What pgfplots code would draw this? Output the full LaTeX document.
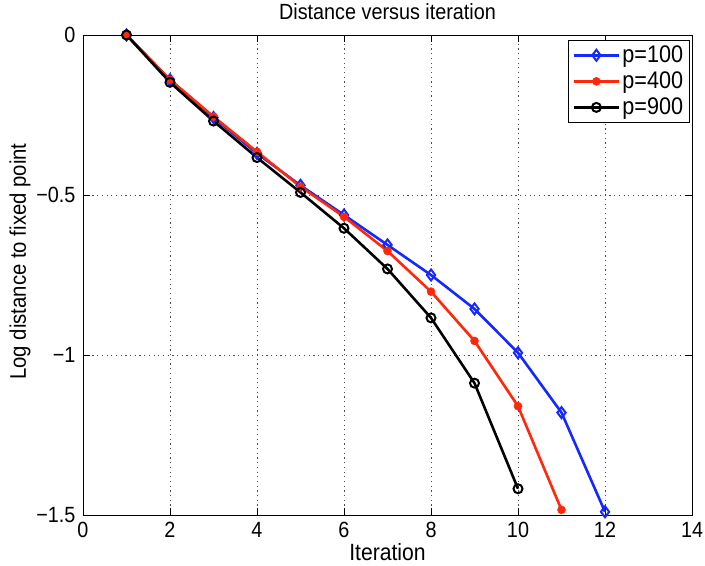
\documentclass[border=0pt]{standalone}
\usepackage{pgfplots}
\pgfplotsset{compat=1.18}
\usepackage{fontspec}
\setmainfont[FakeStretch=0.9]{Liberation Sans}
\definecolor{mblue}{RGB}{20,40,255}
\definecolor{mred}{RGB}{255,40,10}
\begin{document}
\fontsize{22}{26}\selectfont
\begin{tikzpicture}
\begin{axis}[
  name=ax,
  scale only axis, width=609pt, height=480pt,
  xmin=0, xmax=14, ymin=-1.5, ymax=0,
  xtick={0,2,4,6,8,10,12,14},
  ytick={-1.5,-1,-0.5,0},
  yticklabels={−1.5,−1,−0.5,0},
  /pgf/number format/assume math mode=true,
  tick align=inside, tick pos=both, major tick length=7pt,
  grid=major, grid style={dash pattern=on 1.2pt off 3.5pt, black!70, line width=0.8pt},
  axis line style={line width=0.9pt},
  tick style={black, line width=0.8pt},
  title={Distance versus iteration},
  every axis title/.style={at={(axis description cs:0.5,1)}, anchor=center, yshift=23pt},
  xlabel={Iteration},
  every axis x label/.style={at={(axis description cs:0.5,0)}, anchor=center, yshift=-37pt, font=\fontsize{23.5}{27}\selectfont},
  ylabel={Log distance to fixed point},
  every axis y label/.style={at={(axis description cs:-0.1035,0.528)}, anchor=center, rotate=90, font=\fontsize{22.6}{26}\selectfont},
  legend cell align=left,
  legend style={at={(0.996,0.99)}, anchor=north east, draw=black, line width=0.9pt,
    font=\fontsize{24}{27}\selectfont, row sep=2pt, inner xsep=4pt, inner ysep=3pt},
  legend image code/.code={\draw[mark repeat=2,mark phase=2,#1] plot coordinates {(0cm,0cm) (0.8cm,0cm) (1.6cm,0cm)};},
]
\addplot[mblue, line width=2.6pt, mark=diamond, mark size=5.5pt, mark options={line width=2pt, fill=white}]
coordinates {(1,0) (2,-0.140) (3,-0.258) (4,-0.370) (5,-0.470) (6,-0.5625) (7,-0.656) (8,-0.750) (9,-0.856) (10,-0.993) (11,-1.180) (12,-1.490)};
\addlegendentry{p=100}
\addplot[mred, line width=2.6pt, mark=*, mark size=4pt, mark options={fill=mred, line width=0.5pt}]
coordinates {(1,0) (2,-0.140) (3,-0.255) (4,-0.365) (5,-0.474) (6,-0.568) (7,-0.675) (8,-0.802) (9,-0.956) (10,-1.160) (11,-1.484)};
\addlegendentry{p=400}
\addplot[black, line width=2.6pt, mark=o, mark size=4.5pt, mark options={line width=2pt}]
coordinates {(1,0) (2,-0.148) (3,-0.269) (4,-0.383) (5,-0.492) (6,-0.604) (7,-0.731) (8,-0.884) (9,-1.088) (10,-1.418)};
\addlegendentry{p=900}
\end{axis}
\pgfresetboundingbox
\path[use as bounding box] ([shift={(-83pt,-50pt)}]ax.south west) rectangle ([shift={(13pt,35pt)}]ax.north east);
\end{tikzpicture}
\end{document}
